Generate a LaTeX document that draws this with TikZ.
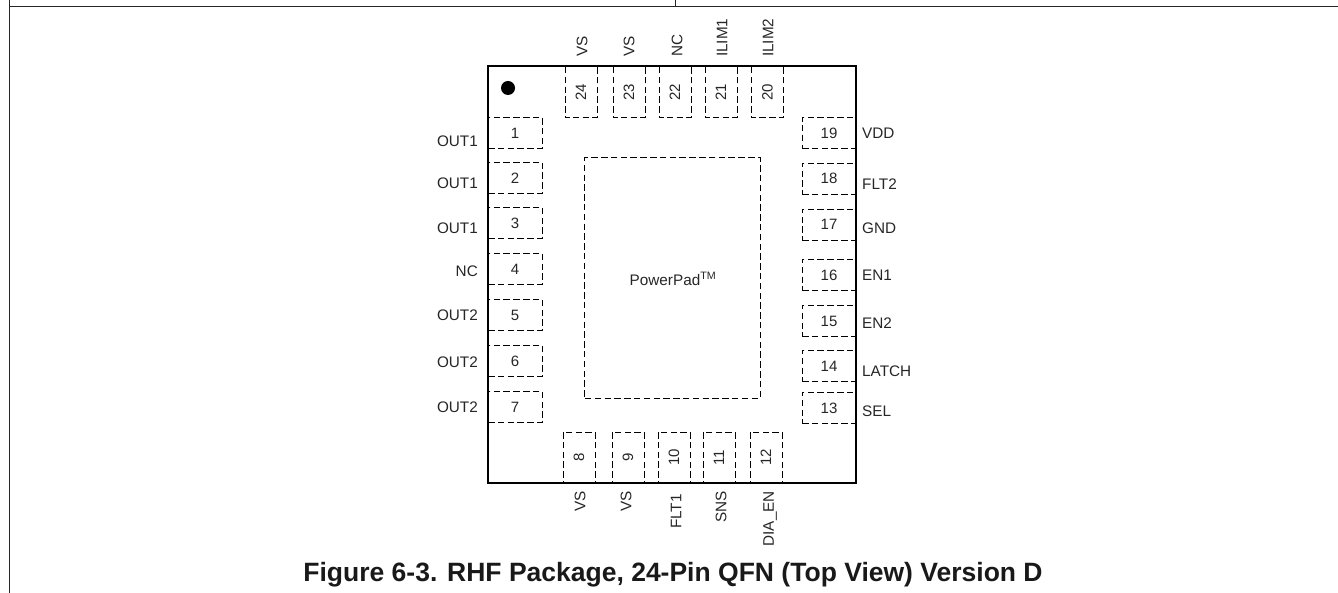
\documentclass[tikz,border=0pt]{standalone}
\usepackage{fontspec}
\setmainfont{Liberation Sans}
\tikzset{
  pad/.style={draw,dashed,dash pattern=on 6.5pt off 3.3pt,line width=1pt,inner sep=0pt,font=\fontsize{15}{17}\selectfont,text=black!85},
  hpad/.style={pad,minimum width=54pt,minimum height=31.5pt},
  vpad/.style={pad,rotate=90,minimum width=51pt,minimum height=32pt},
  pin/.style={inner sep=0pt,font=\fontsize{15.3}{17}\selectfont,text=black!85},
  frameline/.style={line width=1pt,black!85},
}
\begin{document}
\begin{tikzpicture}[x=1pt,y=-1pt]
\useasboundingbox (0,0) rectangle (1338,593);
\coordinate (ftl) at (9,7);
\coordinate (ftop) at (9,0);
\coordinate (fbot) at (9,593);
\coordinate (fr) at (1338,7);
\coordinate (ma) at (675.5,0);
\coordinate (mb) at (675.5,7);
\draw[frameline] (ftop) -- (fbot);
\draw[frameline] (ftl) -- (fr);
\draw[frameline] (ma) -- (mb);
% PowerPad
\node[pad,minimum width=175.5pt,minimum height=240pt] (ppad) at (672.7,278) {};
\node[pin] (pplabel) at (673,279) {PowerPad\textsuperscript{TM}};
% left pads
\foreach \n/\y in {1/133.2,2/177.8,3/223,4/269,5/315,6/361,7/407}
  \node[hpad] (p\n) at (515,\y) {\n};
% right pads
\foreach \n/\y in {19/133.2,18/178.8,17/224.8,16/275,15/321,14/366,13/408}
  \node[hpad] (p\n) at (829,\y) {\n};
% top pads
\foreach \n/\x in {24/581,23/629,22/675,21/721,20/767.5}
  \node[vpad] (p\n) at (\x,92.5) {\n};
% bottom pads
\foreach \n/\x in {8/579,9/628,10/674,11/719,12/766}
  \node[vpad] (p\n) at (\x,457.5) {\n};
% package body
\node[draw,line width=2pt,minimum width=368pt,minimum height=417pt,inner sep=0pt] (pkg) at (672,274.5) {};
\node[circle,fill=black,minimum size=14pt,inner sep=0pt] (dot) at (508,88) {};
% left labels
\foreach \t/\y/\k in {OUT1/141/a,OUT1/183/b,OUT1/228/c,NC/271/d,OUT2/315/e,OUT2/362/f,OUT2/407/g}
  \node[pin,anchor=east] (l\k) at (478,\y) {\t};
% right labels
\foreach \t/\y/\k in {VDD/133/a,FLT2/184.5/b,GND/228/c,EN1/275/d,EN2/323/e,LATCH/371.5/f,SEL/411/g}
  \node[pin,anchor=west] (r\k) at (862,\y) {\t};
% top labels
\foreach \t/\x/\k in {VS/582/a,VS/629/b,NC/677/c,ILIM1/722/d,ILIM2/768/e}
  \node[pin,rotate=90,anchor=west] (t\k) at (\x,57) {\t};
% bottom labels
\foreach \t/\x/\y/\k in {VS/580/491/a,VS/626/491/b,FLT1/676/494/c,SNS/721/491/d,DIA\_EN/770/491/e}
  \node[pin,rotate=90,anchor=east] (b\k) at (\x,\y) {\t};
\node[inner sep=0pt,anchor=base,font=\bfseries\fontsize{26.5}{30}\selectfont,text=black!90] (cap) at (673,581) {Figure 6-3. RHF Package, 24-Pin QFN (Top View) Version D};
\end{tikzpicture}
\end{document}
